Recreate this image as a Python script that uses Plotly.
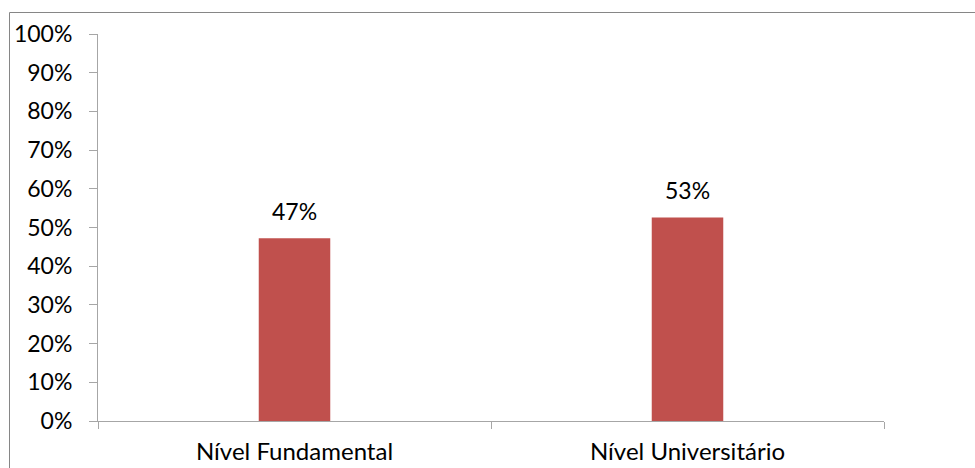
import plotly.graph_objects as go

categories = ["Nível Fundamental", "Nível Universitário"]
values = [0.472, 0.526]
value_labels = ["47%", "53%"]
y_tickvals = [0, 0.1, 0.2, 0.3, 0.4, 0.5, 0.6, 0.7, 0.8, 0.9, 1.0]
y_ticktext = ["0%", "10%", "20%", "30%", "40%", "50%", "60%", "70%", "80%", "90%", "100%"]

FONT = "Lato"
AXIS = "#A6A6A6"

fig = go.Figure()
fig.add_trace(go.Bar(x=categories, y=values, marker=dict(color="#C0504D", line=dict(width=0)),
                     hoverinfo="skip"))

for c, v, t in zip(categories, values, value_labels):
    fig.add_annotation(x=c, y=v, text=t, showarrow=False, yshift=27,
                       font=dict(family=FONT, size=23, color="#000000"))

fig.update_layout(
    width=975, height=468,
    margin=dict(l=98, r=91, t=34, b=47),
    paper_bgcolor="white", plot_bgcolor="white",
    bargap=0.818,
    showlegend=False,
    font=dict(family=FONT, size=22, color="#000000"),
)
fig.update_yaxes(range=[0, 1], tickvals=y_tickvals, ticktext=y_ticktext, automargin=False,
                 showgrid=False, zeroline=False, showline=True, linecolor=AXIS, linewidth=1,
                 ticks="outside", ticklen=8, tickcolor=AXIS, tickwidth=1,
                 ticklabelstandoff=12, tickfont=dict(family=FONT, size=23, color="#000000"))
fig.update_xaxes(showgrid=False, zeroline=False, showline=True, linecolor=AXIS, linewidth=1,
                 automargin=False,
                 ticks="outside", ticklen=7, tickcolor=AXIS, tickwidth=1, tickson="boundaries",
                 ticklabelstandoff=9, tickfont=dict(family=FONT, size=24, color="#000000"))

# outer chart border
fig.add_shape(type="rect", xref="paper", yref="paper",
              x0=(9.5 - 98) / 786, x1=(990 - 98) / 786,
              y0=(421 - 490) / 387, y1=(421 - 12.5) / 387,
              line=dict(color="#868686", width=1), fillcolor="rgba(0,0,0,0)", layer="below")

fig.write_html("out.html")
